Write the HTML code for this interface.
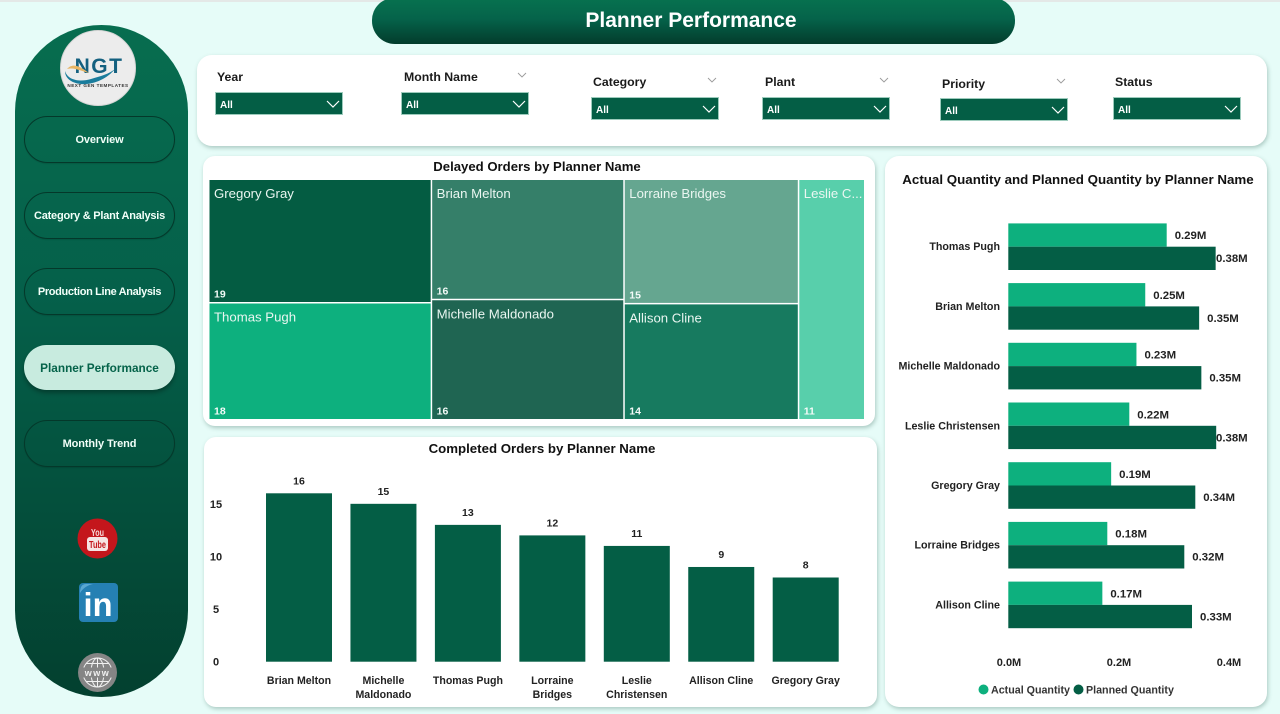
<!DOCTYPE html>
<html lang="en">
<head>
<meta charset="utf-8">
<title>Planner Performance</title>
<style>
  html, body { margin: 0; padding: 0; }
  body { width: 1280px; height: 714px; overflow: hidden; position: relative; background: #e6fcf8; font-family: "Liberation Sans", sans-serif; color: #111; }
  .abs { position: absolute; box-sizing: border-box; }
  #top-strip { left: 0; top: 0; width: 1280px; height: 2px; background: #e4e8e7; }
  #header { left: 372px; top: -2px; width: 643px; height: 46px; border-radius: 22px 22px 23px 23px; background: linear-gradient(180deg, #07724f 0%, #05634a 45%, #033c2c 100%); color: #fff; font-size: 21px; font-weight: bold; text-align: center; line-height: 46px; padding-right: 5px; }
  #sidebar { left: 15px; top: 25px; width: 173px; height: 672px; border-radius: 87px; background: linear-gradient(180deg, #076d4f 0%, #05604a 40%, #03402f 100%); }
  .nav { left: 24px; width: 151px; height: 47px; border-radius: 24px; border: 1px solid #04382a; color: #f2fff9; font-size: 11px; font-weight: bold; text-align: center; line-height: 47px; box-shadow: 0 1px 1px rgba(0,0,0,.12); letter-spacing: -0.1px; }
  .nav.active { background: #c8ebdf; border: none; color: #05634a; box-shadow: 0 3px 4px rgba(0,0,0,.3); letter-spacing: 0; font-size: 11.8px; }
  .card { background: #fff; box-shadow: 1px 2px 4px rgba(60,110,95,.35); }
  .slicer-label { font-size: 12.3px; font-weight: bold; color: #1a1a1a; line-height: 14px; white-space: nowrap; }
  .slicer-box { width: 128px; height: 23px; background: #045e45; border: 1px solid #9ccbbc; color: #fff; font-size: 10px; font-weight: bold; line-height: 25px; padding-left: 4px; }
  svg { display: block; }
  svg text { font-family: "Liberation Sans", sans-serif; }
</style>
</head>
<body>
<div class="abs" id="top-strip"></div>
<div class="abs" id="header">Planner Performance</div>

<div class="abs" id="sidebar"></div>

<svg class="abs" style="left:59px;top:29px" width="78" height="78" viewBox="0 0 78 78">
  <circle cx="39" cy="39" r="37.5" fill="#ececec" stroke="#d5d5d5" stroke-width="1"/>
  <text x="40" y="44" text-anchor="middle" font-size="21" font-weight="bold" fill="#14607f" letter-spacing="1.5">NGT</text>
  <path d="M6 42 C9 52 22 53 32 50 C42 47 50 45 56 40 C48 50 34 56 22 55 C12 54 6 49 6 42Z" fill="#1a7c9c"/>
  <path d="M8 40 C14 33 22 38 30 44 C24 43 16 38 8 40Z" fill="#e8b565"/>
  <text x="39" y="58" text-anchor="middle" font-size="4.6" font-weight="bold" fill="#333" letter-spacing=".5">NEXT GEN TEMPLATES</text>
</svg>

<div class="abs nav" style="top:116px">Overview</div>
<div class="abs nav" style="top:192px;letter-spacing:-0.22px">Category &amp; Plant Analysis</div>
<div class="abs nav" style="top:268px;letter-spacing:-0.35px">Production Line Analysis</div>
<div class="abs nav active" style="top:345px;height:45px;line-height:46px">Planner Performance</div>
<div class="abs nav" style="top:420px">Monthly Trend</div>

<svg class="abs" style="left:77px;top:518px" width="41" height="41" viewBox="0 0 41 41">
  <circle cx="20.5" cy="20.5" r="20" fill="#c4161c"/>
  <text x="20.5" y="18" text-anchor="middle" font-size="10" font-weight="bold" fill="#f6dcdc" textLength="13" lengthAdjust="spacingAndGlyphs">You</text>
  <rect x="10" y="19" width="21" height="14" rx="3" fill="#f6e4e4"/>
  <text x="20.5" y="30" text-anchor="middle" font-size="10" font-weight="bold" fill="#c4161c" textLength="17" lengthAdjust="spacingAndGlyphs">Tube</text>
</svg>
<svg class="abs" style="left:79px;top:583px" width="40" height="40" viewBox="0 0 40 40">
  <rect x="0" y="0" width="39" height="39" rx="4" fill="#2580b3"/>
  <path d="M1 10 C1 4 3 1 7 1 L14 1 C9 2 4 5 1 10Z" fill="#5aa8d2"/>
  <text x="19" y="33" text-anchor="middle" font-size="33" font-weight="bold" fill="#fff" textLength="29" lengthAdjust="spacingAndGlyphs">in</text>
</svg>
<svg class="abs" style="left:78px;top:653px" width="40" height="40" viewBox="0 0 40 40">
  <circle cx="19.5" cy="19.5" r="19.5" fill="#858585"/>
  <g fill="none" stroke="#f1f1f1" stroke-width="1">
    <circle cx="19.5" cy="19.5" r="14.5"/>
    <ellipse cx="19.5" cy="19.5" rx="6.5" ry="14.5"/>
    <path d="M19.5 5 V34 M8 10.5 H31 M8 28.5 H31"/>
  </g>
  <rect x="3" y="14.5" width="33" height="10" fill="#858585"/>
  <text x="19.5" y="23" text-anchor="middle" font-size="9" font-weight="bold" fill="#f1f1f1" letter-spacing="1.5">www</text>
</svg>

<div class="abs card" style="left:197px;top:55px;width:1070px;height:91px;border-radius:15px"></div>

<div class="abs slicer-label" style="left:217px;top:70px">Year</div>
<div class="abs slicer-box" style="left:215px;top:92px">All<svg class="abs" style="left:110px;top:6px" width="14" height="10" viewBox="0 0 14 10"><path d="M1 2 L7 8 L13 2" fill="none" stroke="#fff" stroke-width="1.2"/></svg></div>

<div class="abs slicer-label" style="left:404px;top:70px">Month Name</div>
<svg class="abs" style="left:517px;top:72px" width="10" height="6" viewBox="0 0 10 6"><path d="M1 1 L5 5 L9 1" fill="none" stroke="#9a9a9a" stroke-width=".9"/></svg>
<div class="abs slicer-box" style="left:401px;top:92px">All<svg class="abs" style="left:110px;top:6px" width="14" height="10" viewBox="0 0 14 10"><path d="M1 2 L7 8 L13 2" fill="none" stroke="#fff" stroke-width="1.2"/></svg></div>

<div class="abs slicer-label" style="left:593px;top:75px">Category</div>
<svg class="abs" style="left:707px;top:77px" width="10" height="6" viewBox="0 0 10 6"><path d="M1 1 L5 5 L9 1" fill="none" stroke="#9a9a9a" stroke-width=".9"/></svg>
<div class="abs slicer-box" style="left:591px;top:97px">All<svg class="abs" style="left:110px;top:6px" width="14" height="10" viewBox="0 0 14 10"><path d="M1 2 L7 8 L13 2" fill="none" stroke="#fff" stroke-width="1.2"/></svg></div>

<div class="abs slicer-label" style="left:765px;top:75px">Plant</div>
<svg class="abs" style="left:879px;top:77px" width="10" height="6" viewBox="0 0 10 6"><path d="M1 1 L5 5 L9 1" fill="none" stroke="#9a9a9a" stroke-width=".9"/></svg>
<div class="abs slicer-box" style="left:762px;top:97px">All<svg class="abs" style="left:110px;top:6px" width="14" height="10" viewBox="0 0 14 10"><path d="M1 2 L7 8 L13 2" fill="none" stroke="#fff" stroke-width="1.2"/></svg></div>

<div class="abs slicer-label" style="left:942px;top:77px">Priority</div>
<svg class="abs" style="left:1056px;top:78px" width="10" height="6" viewBox="0 0 10 6"><path d="M1 1 L5 5 L9 1" fill="none" stroke="#9a9a9a" stroke-width=".9"/></svg>
<div class="abs slicer-box" style="left:940px;top:98px">All<svg class="abs" style="left:110px;top:6px" width="14" height="10" viewBox="0 0 14 10"><path d="M1 2 L7 8 L13 2" fill="none" stroke="#fff" stroke-width="1.2"/></svg></div>

<div class="abs slicer-label" style="left:1115px;top:75px">Status</div>
<div class="abs slicer-box" style="left:1113px;top:97px">All<svg class="abs" style="left:110px;top:6px" width="14" height="10" viewBox="0 0 14 10"><path d="M1 2 L7 8 L13 2" fill="none" stroke="#fff" stroke-width="1.2"/></svg></div>

<svg class="abs card" id="treemap" style="left:203px;top:156px;border-radius:12px" width="672" height="270" viewBox="203 156 672 270"></svg>
<svg class="abs card" id="columns" style="left:204px;top:437px;border-radius:12px" width="673" height="270" viewBox="204 437 673 270"></svg>
<svg class="abs card" id="hbars" style="left:885px;top:156px;border-radius:14px" width="382" height="551" viewBox="885 156 382 551"></svg>

<script>
/* Treemap data */
const delayedNames = ["Gregory Gray", "Thomas Pugh", "Brian Melton", "Michelle Maldonado", "Lorraine Bridges", "Allison Cline", "Leslie Christensen"];
const delayedValues = [19, 18, 16, 16, 15, 14, 11];
const delayedColors = ["#045c42", "#0db07e", "#357f69", "#1f6552", "#65a690", "#177a5f", "#58cfab"];
const delayedColumnSizes = [2, 2, 2, 1];

/* Column chart data */
const completedNames = ["Brian Melton", "Michelle Maldonado", "Thomas Pugh", "Lorraine Bridges", "Leslie Christensen", "Allison Cline", "Gregory Gray"];
const completedValues = [16, 15, 13, 12, 11, 9, 8];
const completedTicks = [0, 5, 10, 15];

/* Horizontal bar chart data (millions) */
const quantityNames = ["Thomas Pugh", "Brian Melton", "Michelle Maldonado", "Leslie Christensen", "Gregory Gray", "Lorraine Bridges", "Allison Cline"];
const actualQuantity = [0.288, 0.249, 0.233, 0.22, 0.187, 0.18, 0.171];
const plannedQuantity = [0.377, 0.347, 0.351, 0.378, 0.34, 0.32, 0.334];
const quantityTicks = [0, 0.2, 0.4];
const legendLabels = ["Actual Quantity", "Planned Quantity"];

const SVGNS = "http://www.w3.org/2000/svg";
function make(parent, tag, attrs, txt) {
  const el = document.createElementNS(SVGNS, tag);
  for (const k in attrs) el.setAttribute(k, attrs[k]);
  if (txt !== undefined) el.textContent = txt;
  parent.appendChild(el);
  return el;
}
function slug(s) { return s.toLowerCase().replace(/[^a-z0-9]+/g, "-"); }

/* ---------- Treemap ---------- */
(function () {
  const svg = document.getElementById("treemap");
  const L = 209.5, T = 180, W = 656, H = 240.5;
  const total = delayedValues.reduce((a, b) => a + b, 0);
  const title = make(svg, "text", { x: 537, y: 171, "text-anchor": "middle", "font-size": 13.15, "font-weight": "bold", fill: "#111" }, "Delayed Orders by Planner Name");
  
  
  let idx = 0, x = L;
  delayedColumnSizes.forEach(function (n) {
    const vals = delayedValues.slice(idx, idx + n);
    const sum = vals.reduce((a, b) => a + b, 0);
    const colW = W * sum / total;
    let y = T;
    vals.forEach(function (v, j) {
      const i = idx + j;
      const h = H * v / sum;
      const cell = make(svg, "rect", { x: x, y: y, width: colW - 1.5, height: h - 1.5, fill: delayedColors[i] });
      
      
      const name = colW < 100 ? delayedNames[i].slice(0, 8) + "..." : delayedNames[i];
      const nameText = make(svg, "text", { x: x + 4.5, y: y + 18, "font-size": 13.2, fill: "#eaf6f1" }, name);
      
      
      const valText = make(svg, "text", { x: x + 4.5, y: y + h - 6, "font-size": 10.5, "font-weight": "bold", fill: "#f4fbf8" }, v);
      
      
      y += h;
    });
    x += colW;
    idx += n;
  });
})();

/* ---------- Column chart ---------- */
(function () {
  const svg = document.getElementById("columns");
  const y0 = 661.7, unit = 10.525, firstCenter = 299, step = 84.45, barW = 66;
  const yScale = v => y0 - v * unit;
  const xScale = i => firstCenter + i * step;
  const title = make(svg, "text", { x: 542, y: 453, "text-anchor": "middle", "font-size": 13.25, "font-weight": "bold", fill: "#111" }, "Completed Orders by Planner Name");
  
  
  completedTicks.forEach(function (t) {
    const tick = make(svg, "text", { x: 216, y: yScale(t) + 4, "text-anchor": "middle", "font-size": 11, "font-weight": "bold", fill: "#222" }, t);
    
    
  });
  completedValues.forEach(function (v, i) {
    const cx = xScale(i);
    const bar = make(svg, "rect", { x: cx - barW / 2, y: yScale(v), width: barW, height: y0 - yScale(v), fill: "#045e45" });
    
    
    const lab = make(svg, "text", { x: cx, y: yScale(v) - 9, "text-anchor": "middle", "font-size": 10.5, "font-weight": "bold", fill: "#222" }, v);
    
    
    const nm = completedNames[i];
    const lines = nm.length > 13 ? nm.split(" ") : [nm];
    lines.forEach(function (ln, k) {
      const c = make(svg, "text", { x: cx, y: 684 + k * 14, "text-anchor": "middle", "font-size": 10.6, "font-weight": "bold", fill: "#222" }, ln);
      
      
    });
  });
})();

/* ---------- Horizontal bars ---------- */
(function () {
  const svg = document.getElementById("hbars");
  const x0 = 1008.3, perM = 550, firstRow = 246.7, rowStep = 59.7, barH = 23.3, maxLabelX = 1216;
  const xScale = v => x0 + v * perM;
  const yScale = i => firstRow + i * rowStep;
  const title = make(svg, "text", { x: 1078, y: 184, "text-anchor": "middle", "font-size": 13.35, "font-weight": "bold", fill: "#111" }, "Actual Quantity and Planned Quantity by Planner Name");
  
  
  quantityNames.forEach(function (nm, i) {
    const cy = yScale(i);
    const cat = make(svg, "text", { x: 1000, y: cy + 3.5, "text-anchor": "end", "font-size": 10.7, "font-weight": "bold", fill: "#222" }, nm);
    
    
    const a = make(svg, "rect", { x: x0, y: cy - barH, width: xScale(actualQuantity[i]) - x0, height: barH, fill: "#0db07e" });
    
    
    const p = make(svg, "rect", { x: x0, y: cy, width: xScale(plannedQuantity[i]) - x0, height: barH, fill: "#045e45" });
    
    
    const al = make(svg, "text", { x: Math.min(xScale(actualQuantity[i]) + 8, maxLabelX), y: cy - 7.5, "font-size": 11.4, "font-weight": "bold", fill: "#222" }, actualQuantity[i].toFixed(2) + "M");
    
    
    const pl = make(svg, "text", { x: Math.min(xScale(plannedQuantity[i]) + 8, maxLabelX), y: cy + 15.5, "font-size": 11.4, "font-weight": "bold", fill: "#222" }, plannedQuantity[i].toFixed(2) + "M");
    
    
  });
  quantityTicks.forEach(function (t) {
    const tick = make(svg, "text", { x: xScale(t) + 0.7, y: 666, "text-anchor": "middle", "font-size": 11, "font-weight": "bold", fill: "#222" }, t.toFixed(1) + "M");
    
    
  });
  const legendColors = ["#0db07e", "#045e45"];
  const legendDots = [983.5, 1078.5];
  legendLabels.forEach(function (lbl, i) {
    const dot = make(svg, "circle", { cx: legendDots[i], cy: 689.5, r: 5, fill: legendColors[i] });
    
    
    const t = make(svg, "text", { x: legendDots[i] + 7.5, y: 693.5, "font-size": 10.7, "font-weight": "bold", fill: "#333" }, lbl);
    
    
  });
})();
</script>
</body>
</html>
